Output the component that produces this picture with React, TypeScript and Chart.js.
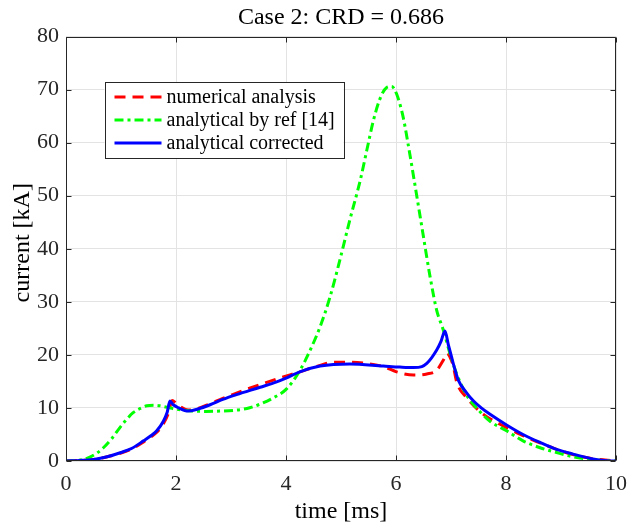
import React, { useEffect, useRef } from 'react';
import { Chart, registerables } from 'chart.js';

Chart.register(...registerables);

const FONT = '"Liberation Serif", "Times New Roman", serif';

const chartTitle = 'Case 2: CRD = 0.686';
const xAxisTitle = 'time [ms]';
const yAxisTitle = '  current [kA]';

const xTickValues = [0, 2, 4, 6, 8, 10];
const yTickValues = [0, 10, 20, 30, 40, 50, 60, 70, 80];

const seriesLabels = ['numerical analysis', 'analytical by ref [14]', 'analytical corrected'];

const timeNumerical = [0, 0.25, 0.5, 0.75, 1.0, 1.2, 1.41, 1.55, 1.66, 1.78, 1.86, 1.93, 2.0, 2.1, 2.22, 2.4, 2.62, 2.85, 3.1, 3.5, 3.85, 4.25, 4.55, 4.86, 5.16, 5.45, 5.77, 6.01, 6.32, 6.56, 6.74, 6.86, 6.93, 6.98, 7.04, 7.1, 7.29, 7.59, 8.01, 8.31, 8.62, 8.92, 9.22, 9.53, 9.8, 10];
const numerical = [0, 0.1, 0.3, 0.8, 1.5, 2.3, 3.6, 4.6, 5.5, 7.2, 9.0, 11.4, 10.9, 10.1, 9.6, 9.9, 10.8, 11.8, 12.8, 14.3, 15.5, 16.8, 17.8, 18.6, 18.6, 18.4, 17.8, 16.8, 16.2, 16.4, 17.1, 19.0, 20.3, 19.6, 18.0, 15.0, 11.9, 8.8, 6.3, 4.8, 3.4, 2.2, 1.2, 0.5, 0.2, 0];

const timeRef = [0, 0.2, 0.38, 0.55, 0.68, 0.83, 0.98, 1.1, 1.22, 1.35, 1.47, 1.6, 1.71, 1.85, 1.98, 2.15, 2.31, 2.55, 2.8, 3.05, 3.29, 3.5, 3.77, 4.01, 4.255, 4.44, 4.62, 4.8, 4.98, 5.16, 5.35, 5.47, 5.59, 5.71, 5.83, 5.92, 6.01, 6.13, 6.25, 6.38, 6.5, 6.62, 6.74, 6.86, 6.98, 7.1, 7.29, 7.5, 7.71, 8.01, 8.31, 8.62, 8.92, 9.22, 9.53, 9.8, 10];
const analyticalRef = [0, 0.1, 0.5, 1.4, 2.5, 4.2, 6.3, 7.8, 9.1, 9.9, 10.4, 10.5, 10.4, 10.1, 9.8, 9.55, 9.4, 9.35, 9.4, 9.55, 9.9, 10.6, 11.9, 13.6, 17.1, 20.9, 25.3, 30.9, 37.9, 45.4, 52.9, 58.6, 64.2, 68.3, 70.4, 70.6, 69.2, 64.8, 57.9, 49.8, 42.2, 34.7, 28.4, 24.7, 20.3, 16.5, 12.3, 9.6, 7.5, 5.7, 3.8, 2.5, 1.6, 0.8, 0.3, 0.05, 0];

const timeCorrected = [0, 0.25, 0.5, 0.75, 1.0, 1.2, 1.41, 1.55, 1.65, 1.77, 1.84, 1.89, 1.95, 2.05, 2.22, 2.4, 2.62, 2.85, 3.1, 3.53, 3.83, 4.0, 4.25, 4.62, 5.16, 5.77, 6.07, 6.32, 6.47, 6.56, 6.65, 6.74, 6.82, 6.89, 6.95, 7.01, 7.07, 7.13, 7.28, 7.41, 7.55, 7.71, 8.01, 8.31, 8.62, 8.92, 9.22, 9.53, 9.83, 10];
const analyticalCorrected = [0, 0.1, 0.3, 0.8, 1.6, 2.4, 3.8, 4.8, 5.7, 7.5, 9.2, 11.3, 10.6, 10.0, 9.4, 9.8, 10.6, 11.6, 12.5, 13.9, 14.9, 15.6, 16.8, 17.9, 18.3, 17.9, 17.7, 17.6, 17.8, 18.4, 19.5, 20.9, 22.6, 24.5, 22.0, 19.6, 17.3, 15.3, 12.9, 11.3, 10.0, 8.8, 6.8, 5.0, 3.5, 2.2, 1.3, 0.5, 0.05, 0];

const toPoints = (xs: number[], ys: number[]) => xs.map((x, i) => ({ x, y: ys[i] }));

const boxPlugin = {
  id: 'matlabBox',
  afterDatasetsDraw(chart: any) {
    const { ctx, chartArea: ca, scales } = chart;
    const xs = scales.x;
    const ys = scales.y;
    ctx.save();
    ctx.strokeStyle = '#262626';
    ctx.lineWidth = 1;
    const L = Math.round(ca.left) + 0.5;
    const R = Math.round(ca.right) - 0.5;
    const T = Math.round(ca.top) + 0.5;
    const B = Math.round(ca.bottom) - 0.5;
    ctx.beginPath();
    ctx.rect(L, T, R - L, B - T);
    const tl = 5;
    xTickValues.forEach((v) => {
      const px = Math.round(xs.getPixelForValue(v)) + 0.5;
      ctx.moveTo(px, B);
      ctx.lineTo(px, B - tl);
      ctx.moveTo(px, T);
      ctx.lineTo(px, T + tl);
    });
    yTickValues.forEach((v) => {
      const py = Math.round(ys.getPixelForValue(v)) + 0.5;
      ctx.moveTo(L, py);
      ctx.lineTo(L + tl, py);
      ctx.moveTo(R, py);
      ctx.lineTo(R - tl, py);
    });
    ctx.stroke();
    ctx.restore();
  },
};

const legendPlugin = {
  id: 'boxLegend',
  afterDraw(chart: any) {
    const { ctx, chartArea: ca } = chart;
    const left = ca.left + 38.5;
    const top = ca.top + 45.5;
    const w = 239;
    const h = 76;
    ctx.save();
    ctx.fillStyle = '#ffffff';
    ctx.fillRect(left, top, w, h);
    ctx.strokeStyle = '#262626';
    ctx.lineWidth = 1;
    ctx.strokeRect(Math.round(left) + 0.5, Math.round(top) + 0.5, w, h);
    ctx.font = `20px ${FONT}`;
    ctx.textBaseline = 'middle';
    ctx.textAlign = 'left';
    const ds = chart.data.datasets;
    ds.forEach((d: any, i: number) => {
      const y = top + 15 + i * 23;
      ctx.beginPath();
      ctx.strokeStyle = d.borderColor;
      ctx.lineWidth = d.borderWidth;
      ctx.setLineDash(d.borderDash || []);
      ctx.moveTo(left + 10, y);
      ctx.lineTo(left + 57, y);
      ctx.stroke();
      ctx.setLineDash([]);
      ctx.fillStyle = '#000000';
      ctx.fillText(d.label, left + 62, y + 1);
    });
    ctx.restore();
  },
};

export default function App() {
  const ref = useRef<HTMLCanvasElement | null>(null);

  useEffect(() => {
    if (!ref.current) return;
    const chart = new Chart(ref.current, {
      type: 'line',
      data: {
        datasets: [
          {
            label: seriesLabels[0],
            data: toPoints(timeNumerical, numerical),
            borderColor: '#ff0000',
            borderWidth: 3,
            borderDash: [11, 7],
            pointRadius: 0,
            cubicInterpolationMode: 'monotone',
            order: 3,
          },
          {
            label: seriesLabels[1],
            data: toPoints(timeRef, analyticalRef),
            borderColor: '#00ff00',
            borderWidth: 3,
            borderDash: [9, 4, 3, 4],
            pointRadius: 0,
            cubicInterpolationMode: 'monotone',
            order: 2,
          },
          {
            label: seriesLabels[2],
            data: toPoints(timeCorrected, analyticalCorrected),
            borderColor: '#0000ff',
            borderWidth: 3,
            pointRadius: 0,
            cubicInterpolationMode: 'monotone',
            order: 1,
          },
        ],
      },
      options: {
        responsive: false,
        animation: false,
        layout: { padding: { left: 0, right: 12, top: 0, bottom: 0 } },
        plugins: {
          legend: { display: false },
          tooltip: { enabled: false },
          title: {
            display: true,
            text: chartTitle,
            fullSize: false,
            color: '#000000',
            font: { family: FONT, size: 24, weight: 'normal', lineHeight: 0.8 },
            padding: { top: 8, bottom: 9.3 },
          },
        },
        scales: {
          x: {
            type: 'linear',
            min: 0,
            max: 10,
            afterFit: (s: any) => {
              s.height = 66;
              s.paddingLeft = 0;
              s.paddingRight = 0;
            },
            afterBuildTicks: (s: any) => {
              s.ticks = xTickValues.map((v) => ({ value: v }));
            },
            ticks: {
              color: '#262626',
              font: { family: FONT, size: 22 },
              padding: 10,
              maxRotation: 0,
            },
            grid: { color: '#e3e3e3', drawTicks: false, lineWidth: 1 },
            border: { display: false },
            title: {
              display: true,
              text: xAxisTitle,
              color: '#000000',
              font: { family: FONT, size: 24, lineHeight: 1.2 },
              padding: { top: 0, bottom: 1 },
            },
          },
          y: {
            type: 'linear',
            min: 0,
            max: 80,
            afterFit: (s: any) => {
              s.width = 66;
              s.paddingTop = 0;
              s.paddingBottom = 0;
            },
            afterBuildTicks: (s: any) => {
              s.ticks = yTickValues.map((v) => ({ value: v }));
            },
            ticks: {
              color: '#262626',
              font: { family: FONT, size: 22 },
              padding: 7,
            },
            grid: { color: '#e3e3e3', drawTicks: false, lineWidth: 1 },
            border: { display: false },
            title: {
              display: true,
              text: yAxisTitle,
              color: '#000000',
              font: { family: FONT, size: 24, lineHeight: 1.2 },
              padding: { top: 8, bottom: 0 },
            },
          },
        },
      },
      plugins: [boxPlugin, legendPlugin],
    } as any);
    return () => chart.destroy();
  }, []);

  return (
    <div style={{ position: 'fixed', left: 0, top: 0, width: 628, height: 527, background: '#ffffff' }}>
      <canvas ref={ref} width={628} height={527} style={{ display: 'block', width: 628, height: 527 }} />
    </div>
  );
}
